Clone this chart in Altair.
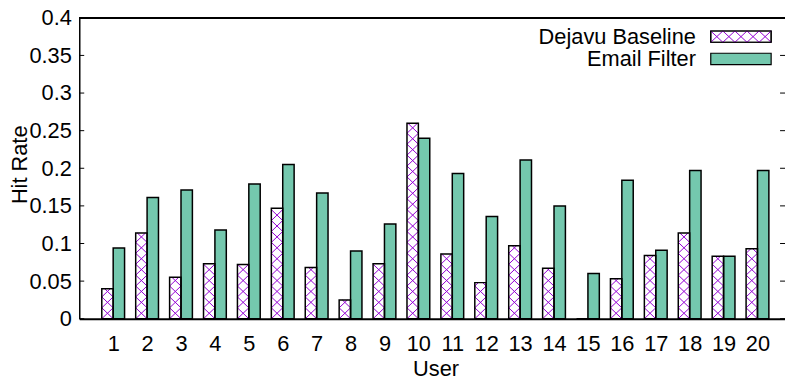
import altair as alt
import pandas as pd

# ---- data ----
users = list(range(1, 21))
series_names = ["Dejavu Baseline", "Email Filter"]
dejavu = [0.040, 0.114, 0.055, 0.073, 0.072, 0.147, 0.068, 0.025, 0.073, 0.260,
          0.086, 0.048, 0.097, 0.067, 0.0, 0.053, 0.084, 0.114, 0.083, 0.093]
email = [0.094, 0.161, 0.171, 0.118, 0.179, 0.205, 0.167, 0.090, 0.126, 0.240,
         0.193, 0.136, 0.211, 0.150, 0.060, 0.184, 0.091, 0.197, 0.083, 0.197]
y_ticks = [0, 0.05, 0.1, 0.15, 0.2, 0.25, 0.3, 0.35, 0.4]

# ---- styling / layout constants ----
FONT = "Liberation Sans"
FS = 22
W, H = 713, 304
PX = 34.26          # pixels per user step
PY = H / 0.4        # pixels per unit of hit rate
BW = 0.336          # bar width in user units
DH = 0.0145         # height of one crosshatch cell in hit-rate units
PURPLE = "#9400d3"
GREEN_FILL = "#74c8ae"
XMAX = W / PX

df = pd.DataFrame({
    "user": users * 2,
    "series": [series_names[0]] * len(users) + [series_names[1]] * len(users),
    "value": dejavu + email,
})

xscale = alt.Scale(domain=[0, XMAX], nice=False, zero=False)
yscale = alt.Scale(domain=[0, 0.4], nice=False)

xaxis = alt.Axis(values=users, format="d", tickSize=0, labelPadding=15, grid=False,
                 domainColor="black", domainWidth=2, labelFont=FONT, labelFontSize=FS,
                 labelColor="black", labelFlush=False, title="User", titleFont=FONT,
                 titleFontSize=FS, titleFontWeight="normal", titleColor="black",
                 titleX=360, titleY=57, titleAlign="center", titleBaseline="alphabetic")
yaxis = alt.Axis(values=y_ticks, format="~g", tickSize=0, labelPadding=8, grid=False,
                 domainColor="black", domainWidth=1.5, labelFont=FONT, labelFontSize=FS,
                 labelColor="black", labelFlush=False, title="Hit Rate", titleFont=FONT,
                 titleFontSize=FS, titleFontWeight="normal", titleColor="black",
                 titleAngle=270, titleX=-53, titleY=148, titleAlign="center",
                 titleBaseline="alphabetic")


def X(field):
    return alt.X(field, scale=xscale, axis=xaxis)


def Y(field):
    return alt.Y(field, scale=yscale, axis=yaxis)


base = (alt.Chart(df)
        .transform_calculate(x0=f"datum.user + (datum.series == '{series_names[0]}' ? -{BW} : 0)")
        .transform_calculate(x1=f"datum.x0 + {BW}"))

fills = base.mark_rect().encode(
    x=X("x0:Q"), x2="x1:Q", y=Y("value:Q"), y2=alt.datum(0),
    fill=alt.Fill("series:N", scale=alt.Scale(domain=series_names, range=["white", GREEN_FILL]),
                  legend=None),
)

hatch_src = (alt.Chart(df)
             .transform_filter(f"datum.series == '{series_names[0]}' && datum.value > 0")
             .transform_calculate(k=f"sequence(0, ceil(datum.value / {DH}))")
             .transform_flatten(["k"])
             .transform_calculate(ya=f"datum.k * {DH}")
             .transform_calculate(yb=f"min(datum.ya + {DH}, datum.value)")
             .transform_calculate(f=f"(datum.yb - datum.ya) / {DH}")
             .transform_calculate(xl=f"datum.user - {BW}")
             .transform_calculate(xr="datum.user")
             .transform_calculate(xl2=f"datum.xl + datum.f * {BW}")
             .transform_calculate(xr2=f"datum.xr - datum.f * {BW}"))

hatch1 = hatch_src.mark_rule(color=PURPLE, strokeWidth=1).encode(
    x=X("xl:Q"), x2="xl2:Q", y=Y("ya:Q"), y2="yb:Q")
hatch2 = hatch_src.mark_rule(color=PURPLE, strokeWidth=1).encode(
    x=X("xr:Q"), x2="xr2:Q", y=Y("ya:Q"), y2="yb:Q")

outline = base.mark_rect(fillOpacity=0, stroke="black", strokeWidth=1.5).encode(
    x=X("x0:Q"), x2="x1:Q", y=Y("value:Q"), y2=alt.datum(0))

tick_df = pd.DataFrame({"t": y_ticks})
ticks_l = alt.Chart(tick_df).mark_rule(color="black").encode(
    y=Y("t:Q"), x=alt.value(0), x2=alt.value(5))
ticks_r = alt.Chart(tick_df).mark_rule(color="black").encode(
    y=Y("t:Q"), x=alt.value(W - 5), x2=alt.value(W))
top_line = alt.Chart(tick_df).mark_rule(color="black", strokeWidth=1.5).encode(
    y=alt.value(0), x=alt.value(0), x2=alt.value(W))

# ---- gnuplot-style key (label left, swatch right) ----
leg_layers = []
key_rows = [(series_names[0], 19, "white"), (series_names[1], 41.5, GREEN_FILL)]
for name, yc, fc in key_rows:
    d = pd.DataFrame({"label": [name]})
    leg_layers.append(alt.Chart(d).mark_text(align="right", baseline="middle", font=FONT,
                                             fontSize=FS, color="black").encode(
        x=alt.value(623), y=alt.value(yc), text="label:N"))
    leg_layers.append(alt.Chart(d).mark_rect(fill=fc, stroke="black", strokeWidth=1.2).encode(
        x=alt.value(638), x2=alt.value(699), y=alt.value(yc - 5.7), y2=alt.value(yc + 5.7)))

# crosshatch on the first key swatch (in data space of the shared scales)
sw_x0, sw_x1 = 638 / PX, 699 / PX
sw_top, sw_bot = 0.4 - 13.3 / PY, 0.4 - 24.7 / PY
cell = (sw_x1 - sw_x0) / 5
sw = (alt.Chart(pd.DataFrame({"label": [series_names[0]]}))
      .transform_calculate(k="sequence(0, 5)")
      .transform_flatten(["k"])
      .transform_calculate(xa=f"{sw_x0} + datum.k * {cell}")
      .transform_calculate(xb=f"datum.xa + {cell}")
      .transform_calculate(top=f"{sw_top}")
      .transform_calculate(bot=f"{sw_bot}"))
sw1 = sw.mark_rule(color=PURPLE, strokeWidth=1).encode(
    x=X("xa:Q"), x2="xb:Q", y=Y("bot:Q"), y2="top:Q")
sw2 = sw.mark_rule(color=PURPLE, strokeWidth=1).encode(
    x=X("xa:Q"), x2="xb:Q", y=Y("top:Q"), y2="bot:Q")
sw_outline = alt.Chart(pd.DataFrame({"label": [series_names[0]]})).mark_rect(
    fillOpacity=0, stroke="black", strokeWidth=1.2).encode(
    x=alt.value(638), x2=alt.value(699), y=alt.value(13.3), y2=alt.value(24.7))

chart = alt.layer(fills, hatch1, hatch2, outline, ticks_l, ticks_r, top_line,
                  *leg_layers, sw1, sw2, sw_outline).properties(
    width=W, height=H,
    padding={"left": 72, "top": 8, "right": 0, "bottom": 62},
    autosize=alt.AutoSizeParams(type="none"),
    background="white",
).configure_view(stroke=None)

chart.save("out.html", embed_options={"renderer": "svg", "actions": False})
